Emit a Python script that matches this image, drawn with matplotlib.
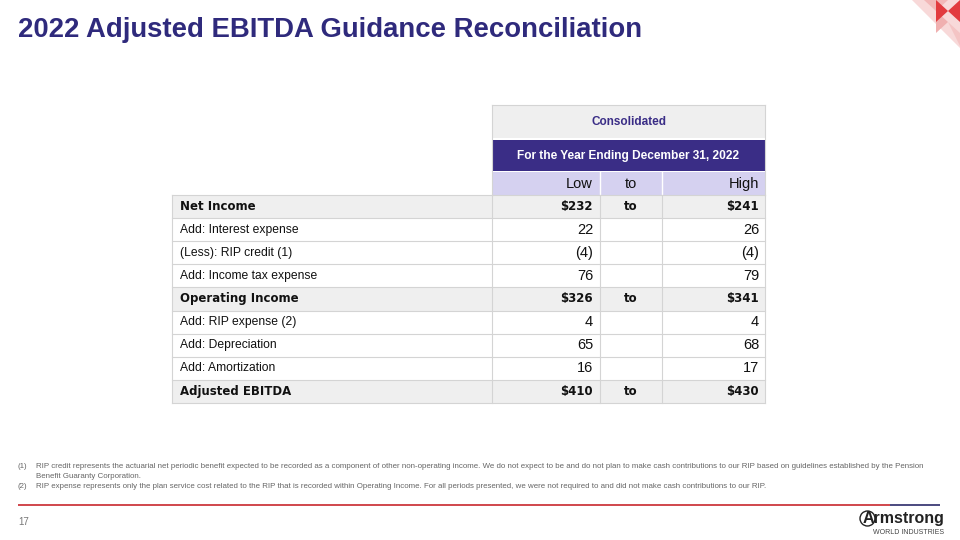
import matplotlib.pyplot as plt
from matplotlib.patches import Rectangle, Polygon, Ellipse

plt.rcParams['font.family'] = ['Liberation Sans', 'DejaVu Sans']

# table data
row_labels = ["Net Income", "Add: Interest expense", "(Less): RIP credit (1)",
              "Add: Income tax expense", "Operating Income", "Add: RIP expense (2)",
              "Add: Depreciation", "Add: Amortization", "Adjusted EBITDA"]
low_vals = [232, 22, -4, 76, 326, 4, 65, 16, 410]
high_vals = [241, 26, -4, 79, 341, 4, 68, 17, 430]
total_rows = [True, False, False, False, True, False, False, False, True]
col_headers = ["Low", "to", "High"]

title = "2022 Adjusted EBITDA Guidance Reconciliation"
footnotes = [
    ("(1)", "RIP credit represents the actuarial net periodic benefit expected to be recorded as a component of other non-operating income. We do not expect to be and do not plan to make cash contributions to our RIP based on guidelines established by the Pension\nBenefit Guaranty Corporation."),
    ("(2)", "RIP expense represents only the plan service cost related to the RIP that is recorded within Operating Income. For all periods presented, we were not required to and did not make cash contributions to our RIP."),
]

NAVY = "#2f2a7c"
PURPLE = "#3a2d86"
LAV = "#d5d1f0"
GRAY = "#efefef"
LINE = "#d4d4d4"

fig = plt.figure(figsize=(9.6, 5.4), dpi=100)
ax = fig.add_axes([0, 0, 1, 1])
ax.set_xlim(0, 960)
ax.set_ylim(540, 0)
ax.axis('off')

# title
ax.text(18, 30, title, fontsize=19.8, fontweight='bold', color=NAVY, va='center', ha='left')

# corner decoration
ax.add_patch(Polygon([(912, 0), (960, 0), (960, 48)], closed=True, color="#f8d9d9", lw=0))
ax.add_patch(Polygon([(924, 0), (948, 0), (936, 11)], closed=True, color="#f2b8b8", lw=0))
ax.add_patch(Polygon([(936, 11), (948, 22), (936, 33)], closed=True, color="#f0b0b0", lw=0))
ax.add_patch(Polygon([(948, 22), (960, 33), (960, 46)], closed=True, color="#f4c4c4", lw=0))
ax.add_patch(Polygon([(936, 0), (948, 11), (936, 22)], closed=True, color="#e23b3f", lw=0))
ax.add_patch(Polygon([(960, 0), (948, 11), (960, 22)], closed=True, color="#e23b3f", lw=0))

# column geometry
x0, x1, x2, x3, x4 = 172, 492, 600, 662, 765
row_h = 23.1
y_top = 195

# header rows
ax.add_patch(Rectangle((x1 + 1, 105), x4 - x1 - 1, 33, color=GRAY, lw=0))
ax.text((x1 + x4) / 2, 122, "Consolidated", fontsize=8.5, fontweight='bold', color=PURPLE,
        ha='center', va='center')
ax.add_patch(Rectangle((x1 + 1, 140), x4 - x1 - 1, 31, color=PURPLE, lw=0))
ax.text((x1 + x4) / 2, 156, "For the Year Ending December 31, 2022", fontsize=8.6,
        fontweight='bold', color='white', ha='center', va='center')
ax.add_patch(Rectangle((x1 + 1, 172), x4 - x1 - 1, y_top - 172, color=LAV, lw=0))
ax.plot([x2, x2], [172, y_top], color='white', lw=1)
ax.plot([x3, x3], [172, y_top], color='white', lw=1)
ax.text(x2 - 7, 184, col_headers[0], fontsize=10.5, ha='right', va='center', color='#111111')
ax.text((x2 + x3) / 2, 184, col_headers[1], fontsize=10.5, ha='center', va='center', color='#111111')
ax.text(x4 - 6, 184, col_headers[2], fontsize=10.5, ha='right', va='center', color='#111111')


def fmt(v, total):
    if total:
        return "${}".format(v)
    if v < 0:
        return "({})".format(-v)
    return str(v)


for i, lab in enumerate(row_labels):
    yt = y_top + i * row_h
    yc = yt + row_h / 2
    tot = total_rows[i]
    if tot:
        ax.add_patch(Rectangle((x0, yt), x4 - x0, row_h, color=GRAY, lw=0))
    ax.plot([x0, x4], [yt, yt], color=LINE, lw=0.8)
    if tot:
        kw = dict(fontsize=8.5, fontweight='bold', family='DejaVu Sans')
        nkw = kw
    else:
        kw = dict(fontsize=8.75)
        nkw = dict(fontsize=10.5)
    ax.text(x0 + 8, yc, lab, ha='left', va='center', color='#111111', **kw)
    ax.text(x2 - 7, yc, fmt(low_vals[i], tot), ha='right', va='center', color='#111111', **nkw)
    ax.text(x4 - 6, yc, fmt(high_vals[i], tot), ha='right', va='center', color='#111111', **nkw)
    if tot:
        ax.text((x2 + x3) / 2, yc, "to", ha='center', va='center', color='#111111', **kw)

y_bot = y_top + len(row_labels) * row_h
ax.plot([x0, x4], [y_bot, y_bot], color=LINE, lw=0.8)
for xv in [x0, x1, x2, x3, x4]:
    ax.plot([xv, xv], [y_top, y_bot], color=LINE, lw=0.8)
ax.plot([x1, x1], [105, y_top], color=LINE, lw=0.8)
ax.plot([x4, x4], [105, y_top], color=LINE, lw=0.8)
ax.plot([x1, x4], [105, 105], color=LINE, lw=0.8)

# footnotes
fy = [467, 487]
for (num, txt), y in zip(footnotes, fy):
    ax.text(18, y, num, fontsize=5.7, color='#666666', va='center', ha='left')
    for k, ln in enumerate(txt.split("\n")):
        ax.text(36, y + k * 10, ln, fontsize=5.7, color='#666666', va='center', ha='left')

# footer line
ax.plot([18, 890], [505, 505], color="#c8282e", lw=1.2, solid_capstyle='butt')
ax.plot([890, 940], [505, 505], color="#2c2a6a", lw=1.2, solid_capstyle='butt')
ax.text(18, 522, "17", fontsize=7, color='#777777', va='center', ha='left')

# logo
ax.text(944, 519, "Armstrong", fontsize=11.5, fontweight='bold', color='#222222',
        ha='right', va='center')
ax.add_patch(Ellipse((867.5, 518.5), 15, 15, fill=False, ec='#222222', lw=1.0))
ax.text(944, 533, "WORLD INDUSTRIES", fontsize=5, color='#444444', ha='right', va='center')

fig.savefig("out.png", dpi=100)
